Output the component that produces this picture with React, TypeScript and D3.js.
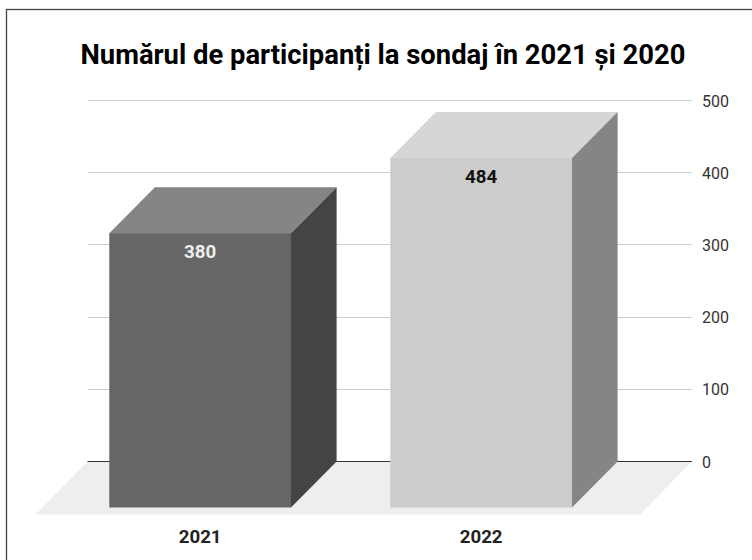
import React from "react";
import * as d3 from "d3";

const title = "Numărul de participanți la sondaj în 2021 și 2020";
const categories = ["2021", "2022"];
const values = [380, 484];
const yTicks = [0, 100, 200, 300, 400, 500];
const frontColors = ["#666666", "#cccccc"];
const topColors = ["#858585", "#d6d6d6"];
const sideColors = ["#444444", "#858585"];
const labelColors = ["#eeeeee", "#111111"];

const W = 752;
const H = 560;
const depthX = 45.6;
const depthY = 46;
const font = "Roboto, sans-serif";

export default function App() {
  const y = d3.scaleLinear().domain([0, 500]).range([461.5, 100.5]);
  const x = d3
    .scaleBand<string>()
    .domain(categories)
    .range([59.65, 621.65])
    .paddingInner(0.3534)
    .paddingOuter(0.1767);
  const line = d3.line();
  const poly = (pts: [number, number][]) => line(pts) + "Z";
  const gridX1 = 87.5;
  const gridX2 = 692;
  const floorBottom = y(0) + 53;

  return (
    <svg
      width={W}
      height={H}
      viewBox={`0 0 ${W} ${H}`}
      style={{ position: "absolute", left: 0, top: 0, background: "#fff" }}
    >
      <rect x={6.5} y={9.5} width={W + 20} height={H + 20} fill="#fff" stroke="#444" strokeWidth={1.3} />
      <text x={383} y={64} textAnchor="middle" fontFamily={font} fontWeight={700} fontSize={27.4} fill="#000">
        {title}
      </text>
      <path
        d={poly([
          [gridX1, y(0)],
          [gridX2, y(0)],
          [gridX2 - 52, floorBottom],
          [gridX1 - 52, floorBottom],
        ])}
        fill="#eeeeee"
      />
      {yTicks.map((t) => (
        <g key={t}>
          <line
            x1={gridX1}
            x2={gridX2}
            y1={Math.floor(y(t)) + 0.5}
            y2={Math.floor(y(t)) + 0.5}
            stroke={t === 0 ? "#333333" : "#cccccc"}
            strokeWidth={1}
          />
          <text x={702} y={y(t) + 6} fontFamily={font} fontSize={16} fill="#333">
            {t}
          </text>
        </g>
      ))}
      {categories.map((c, i) => {
        const x0 = x(c) as number;
        const x1 = x0 + x.bandwidth();
        const yTop = y(values[i]);
        const yBase = y(0);
        return (
          <g key={c}>
            <path
              d={poly([
                [x0, yTop + depthY],
                [x0 + depthX, yTop],
                [x1 + depthX, yTop],
                [x1, yTop + depthY],
              ])}
              fill={topColors[i]}
            />
            <path
              d={poly([
                [x1, yTop + depthY],
                [x1 + depthX, yTop],
                [x1 + depthX, yBase],
                [x1, yBase + depthY],
              ])}
              fill={sideColors[i]}
            />
            <rect x={x0} y={yTop + depthY} width={x1 - x0} height={yBase - yTop} fill={frontColors[i]} />
            <text
              x={(x0 + x1) / 2}
              y={yTop + depthY + 25}
              textAnchor="middle"
              fontFamily={font}
              fontWeight={700}
              fontSize={18.7}
              fill={labelColors[i]}
            >
              {values[i]}
            </text>
            <text
              x={(x0 + x1) / 2}
              y={543}
              textAnchor="middle"
              fontFamily={font}
              fontWeight={700}
              fontSize={18.7}
              fill="#222"
            >
              {c}
            </text>
          </g>
        );
      })}
    </svg>
  );
}
